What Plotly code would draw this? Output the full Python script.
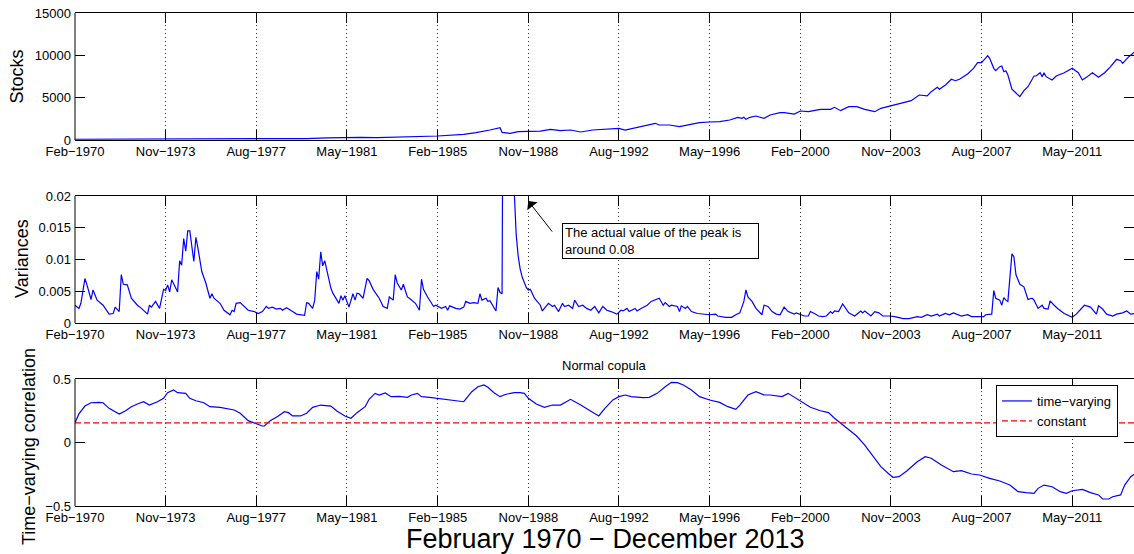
import pandas as pd
import plotly.graph_objects as go

# ---------------- data (months counted from Feb-1970) ----------------
START = "1970-02-01"

stock_m = [0, 12, 24, 36, 48, 56, 66, 84, 100, 115, 125, 135, 142, 150, 160, 172, 180, 193, 199, 206,
           209, 211, 212, 213, 216, 220, 225, 231, 236, 241, 246, 251, 257, 264, 270, 273, 277, 282, 288, 290,
           295, 300, 305, 310, 315, 320, 325, 329, 331, 332, 333, 335, 338, 342, 345, 350, 352, 357, 360, 364,
           370, 375, 377, 380, 384, 388, 392, 397, 400, 405, 409, 415, 419, 423, 425, 428, 429, 432, 435, 437,
           439, 443, 446, 448, 450, 451, 453, 454, 456, 457, 459, 460, 461, 462, 463, 465, 467, 469, 471, 473,
           476, 477, 479, 480, 481, 482, 485, 487, 491, 495, 498, 500, 502, 505, 508, 511, 514, 517, 519, 520,
           523, 526]
stock_v = [90, 100, 110, 130, 100, 75, 100, 110, 120, 170, 250, 330, 300, 280, 330, 380, 470, 670, 865, 1180,
           1330, 1450, 900, 850, 790, 985, 985, 1060, 1260, 1100, 1180, 945, 1180, 1300, 1380, 1180, 1380, 1650, 1970, 1770,
           1770, 1570, 1850, 2050, 2125, 2165, 2360, 2680, 2560, 2680, 2440, 2680, 2835, 2560, 2950, 3230, 3230, 3070, 3425, 3345,
           3620, 3620, 3860, 3465, 3935, 3935, 3620, 3345, 3740, 4015, 4250, 4645, 5315, 5200, 5710, 6220, 5990, 6500, 7170, 7000,
           7170, 7795, 8465, 9130, 9130, 9450, 9955, 9650, 8465, 8185, 8660, 8740, 8070, 8185, 7675, 5990, 5590, 5115, 5825, 6295,
           7560, 7560, 7950, 7480, 7950, 7480, 7085, 7560, 7950, 8465, 7950, 7085, 7400, 7950, 7400, 7950, 8660, 9530, 9365, 9060,
           9840, 10400]

var_m = [0, 2, 3, 5, 6, 8, 9, 11, 14, 17, 19, 20, 22, 23, 24, 26, 28, 31, 33, 36, 37, 38, 40, 42, 44, 45, 46, 47, 48,
         51, 52, 53, 54, 55, 56, 57, 59, 60, 61, 63, 65, 67, 68, 69, 72, 74, 77, 78, 79, 80, 82, 84, 86, 89, 91, 93,
         95, 96, 98, 100, 102, 103, 105, 108, 110, 114, 115, 116, 118, 119, 120, 121, 122, 123, 124, 127, 128, 131,
         132, 133, 134, 136, 138, 139, 140, 141, 143, 145, 146, 148, 151, 153, 155, 156, 158, 159, 160, 162, 163,
         165, 166, 169, 171, 172, 173, 174, 175, 178, 179, 182, 184, 185, 186, 189, 191, 193, 194, 196, 198, 200,
         201, 202, 204, 205, 206, 209, 210, 211, 212, 213, 214, 215, 216, 217, 218, 219, 220, 221, 222, 223, 224,
         225, 226, 228, 231, 232, 235, 237, 238, 240, 242, 243, 245, 247, 248, 250, 252, 254, 256, 258, 260, 262,
         264, 266, 269, 271, 272, 274, 275, 278, 279, 281, 284, 286, 289, 290, 292, 293, 295, 296, 299, 300, 301,
         303, 304, 306, 309, 312, 315, 318, 319, 323, 326, 328, 330, 332, 333, 334, 336, 338, 341, 342, 344, 346,
         348, 350, 352, 354, 357, 358, 360, 362, 364, 365, 367, 369, 371, 373, 375, 376, 377, 379, 381, 382, 384,
         387, 389, 390, 391, 392, 395, 397, 399, 401, 404, 407, 411, 414, 418, 420, 423, 425, 428, 429, 432, 434,
         436, 438, 440, 443, 445, 448, 451, 452, 455, 456, 457, 459, 460, 461, 462, 463, 465, 466, 467, 469, 471,
         473, 475, 476, 478, 480, 481, 483, 484, 486, 488, 491, 495, 497, 499, 501, 504, 507, 508, 510, 512, 515,
         517, 520, 522, 524, 526]
var_v = [0.0028, 0.0023, 0.0031, 0.0070, 0.0060, 0.0037, 0.0052, 0.0036, 0.0028, 0.0014, 0.0015, 0.0025, 0.0018,
         0.0076, 0.0061, 0.0060, 0.0039, 0.0028, 0.0023, 0.0014, 0.0028, 0.0025, 0.0034, 0.0023, 0.0053, 0.0051,
         0.0060, 0.0049, 0.0068, 0.0049, 0.0098, 0.0091, 0.0133, 0.0113, 0.0145, 0.0145, 0.0097, 0.0135, 0.0120,
         0.0081, 0.0063, 0.0039, 0.0046, 0.0039, 0.0031, 0.0020, 0.0013, 0.0020, 0.0018, 0.0031, 0.0032, 0.0026,
         0.0020, 0.0018, 0.0015, 0.0018, 0.0026, 0.0023, 0.0025, 0.0022, 0.0023, 0.0020, 0.0024, 0.0018, 0.0014,
         0.0012, 0.0032, 0.0031, 0.0023, 0.0036, 0.0081, 0.0069, 0.0112, 0.0090, 0.0098, 0.0055, 0.0047, 0.0031,
         0.0043, 0.0036, 0.0043, 0.0025, 0.0046, 0.0036, 0.0047, 0.0046, 0.0039, 0.0070, 0.0067, 0.0053, 0.0039,
         0.0026, 0.0023, 0.0041, 0.0036, 0.0076, 0.0063, 0.0052, 0.0061, 0.0041, 0.0039, 0.0031, 0.0020, 0.0069,
         0.0053, 0.0047, 0.0041, 0.0026, 0.0028, 0.0023, 0.0026, 0.0020, 0.0027, 0.0023, 0.0022, 0.0025, 0.0034,
         0.0031, 0.0032, 0.0031, 0.0046, 0.0036, 0.0039, 0.0034, 0.0035, 0.0019, 0.0056, 0.0048, 0.0046, 0.0800,
         0.0620, 0.0470, 0.0360, 0.0280, 0.0210, 0.0140, 0.0105, 0.0085, 0.0072, 0.0063, 0.0056, 0.0052, 0.0053,
         0.0039, 0.0028, 0.0019, 0.0031, 0.0026, 0.0028, 0.0018, 0.0031, 0.0026, 0.0028, 0.0023, 0.0036, 0.0026,
         0.0028, 0.0023, 0.0020, 0.0026, 0.0016, 0.0026, 0.0020, 0.0018, 0.0014, 0.0020, 0.0019, 0.0023, 0.0018,
         0.0023, 0.0019, 0.0023, 0.0028, 0.0034, 0.0037, 0.0039, 0.0028, 0.0032, 0.0026, 0.0028, 0.0026, 0.0018,
         0.0027, 0.0023, 0.0026, 0.0018, 0.0015, 0.0014, 0.0013, 0.0014, 0.0011, 0.0009, 0.0009, 0.0013, 0.0016,
         0.0034, 0.0052, 0.0041, 0.0034, 0.0023, 0.0013, 0.0028, 0.0026, 0.0018, 0.0014, 0.0013, 0.0025, 0.0018,
         0.0014, 0.0016, 0.0014, 0.0011, 0.0011, 0.0018, 0.0015, 0.0011, 0.0010, 0.0011, 0.0018, 0.0015, 0.0019,
         0.0018, 0.0030, 0.0025, 0.0016, 0.0011, 0.0016, 0.0019, 0.0016, 0.0019, 0.0011, 0.0018, 0.0016, 0.0011,
         0.0011, 0.0010, 0.0007, 0.0007, 0.0010, 0.0009, 0.0013, 0.0011, 0.0014, 0.0011, 0.0015, 0.0013, 0.0016,
         0.0013, 0.0011, 0.0013, 0.0010, 0.0010, 0.0010, 0.0013, 0.0014, 0.0051, 0.0039, 0.0036, 0.0028, 0.0040,
         0.0036, 0.0034, 0.0109, 0.0104, 0.0076, 0.0061, 0.0057, 0.0037, 0.0039, 0.0036, 0.0023, 0.0028, 0.0023,
         0.0022, 0.0035, 0.0028, 0.0022, 0.0015, 0.0009, 0.0014, 0.0022, 0.0028, 0.0025, 0.0014, 0.0027, 0.0022,
         0.0014, 0.0011, 0.0014, 0.0016, 0.0019, 0.0014, 0.0015]

corr_m = [0, 2, 5, 8, 12, 14, 17, 20, 22, 25, 28, 31, 34, 37, 41, 44, 46, 49, 51, 55, 57, 60, 64, 67, 72, 79, 82,
          86, 90, 93, 94, 97, 101, 104, 106, 108, 112, 115, 118, 122, 127, 130, 134, 137, 140, 144, 146, 149, 151,
          154, 157, 161, 165, 167, 170, 172, 176, 180, 184, 189, 193, 197, 200, 203, 205, 208, 211, 214, 218, 221,
          223, 225, 229, 233, 237, 241, 243, 246, 251, 256, 260, 263, 267, 270, 273, 276, 282, 285, 289, 293, 296,
          299, 302, 306, 310, 315, 320, 324, 328, 330, 334, 338, 342, 345, 351, 354, 357, 360, 365, 370, 374, 377,
          380, 384, 388, 392, 396, 400, 404, 406, 409, 413, 418, 422, 425, 430, 436, 440, 445, 449, 454, 459, 464,
          468, 472, 476, 478, 481, 485, 489, 492, 495, 500, 504, 508, 510, 513, 515, 519, 521, 524, 526]
corr_v = [0.156, 0.225, 0.287, 0.313, 0.316, 0.313, 0.269, 0.243, 0.224, 0.248, 0.282, 0.303, 0.321, 0.295, 0.321,
          0.348, 0.392, 0.413, 0.392, 0.387, 0.348, 0.329, 0.313, 0.282, 0.277, 0.256, 0.230, 0.172, 0.146, 0.130,
          0.130, 0.172, 0.209, 0.243, 0.235, 0.209, 0.209, 0.230, 0.277, 0.295, 0.287, 0.248, 0.209, 0.191, 0.235,
          0.282, 0.340, 0.387, 0.374, 0.390, 0.361, 0.363, 0.356, 0.374, 0.387, 0.361, 0.356, 0.348, 0.335, 0.327,
          0.321, 0.400, 0.439, 0.453, 0.435, 0.392, 0.361, 0.380, 0.392, 0.392, 0.387, 0.348, 0.303, 0.277, 0.295,
          0.295, 0.313, 0.340, 0.295, 0.250, 0.209, 0.269, 0.335, 0.361, 0.374, 0.361, 0.353, 0.356, 0.387, 0.439,
          0.474, 0.471, 0.453, 0.413, 0.361, 0.335, 0.316, 0.282, 0.261, 0.295, 0.374, 0.400, 0.375, 0.374, 0.361,
          0.387, 0.356, 0.321, 0.277, 0.250, 0.235, 0.191, 0.151, 0.098, 0.051, -0.020, -0.106, -0.190, -0.248,
          -0.274, -0.269, -0.222, -0.151, -0.112, -0.124, -0.177, -0.230, -0.222, -0.248, -0.256, -0.282, -0.303,
          -0.335, -0.387, -0.395, -0.400, -0.361, -0.335, -0.348, -0.387, -0.400, -0.380, -0.369, -0.395, -0.413,
          -0.445, -0.445, -0.427, -0.413, -0.335, -0.269, -0.248]
corr_const = 0.155

tick_dates = ["1970-02-01", "1973-11-01", "1977-08-01", "1981-05-01", "1985-02-01", "1988-11-01",
              "1992-08-01", "1996-05-01", "2000-02-01", "2003-11-01", "2007-08-01", "2011-05-01"]
tick_labels = ["Feb\u22121970", "Nov\u22121973", "Aug\u22121977", "May\u22121981", "Feb\u22121985", "Nov\u22121988",
               "Aug\u22121992", "May\u22121996", "Feb\u22122000", "Nov\u22122003", "Aug\u22122007", "May\u22122011"]

stock_ticks = [0, 5000, 10000, 15000]
var_ticks = [0, 0.005, 0.01, 0.015, 0.02]
var_tick_text = ["0", "0.005", "0.01", "0.015", "0.02"]
corr_ticks = [-0.5, 0, 0.5]
corr_tick_text = ["\u22120.5", "0", "0.5"]

peak_note = "The actual value of the peak is<br>around 0.08"
peak_date = "1988-11-01"
peak_mark = 0.0192

# ---------------- helpers ----------------
start = pd.Timestamp(START)


def to_dates(months):
    return [start + pd.DateOffset(months=int(m)) for m in months]


W, H, L = 1134, 554, 75


def pxx(p):
    return (p - L) / (W - L)


def pxy(p):
    return 1 - p / H


FONT = "Liberation Sans, Arial, Helvetica, sans-serif"
BLUE = "#0000ff"

fig = go.Figure()
fig.add_trace(go.Scatter(x=to_dates(stock_m), y=stock_v, mode="lines", line=dict(color=BLUE, width=1.2),
                         xaxis="x", yaxis="y", showlegend=False))
fig.add_trace(go.Scatter(x=to_dates(var_m), y=var_v, mode="lines", line=dict(color=BLUE, width=1.2),
                         xaxis="x2", yaxis="y2", showlegend=False))
fig.add_trace(go.Scatter(x=to_dates(corr_m), y=corr_v, mode="lines", line=dict(color=BLUE, width=1.2),
                         xaxis="x3", yaxis="y3", name="time\u2212varying"))
cd = to_dates([corr_m[0], corr_m[-1]])
fig.add_trace(go.Scatter(x=cd, y=[corr_const, corr_const], mode="lines",
                         line=dict(color="#ff0000", width=1.2, dash="6px,3px"),
                         xaxis="x3", yaxis="y3", name="constant"))

xcommon = dict(type="date", range=["1970-02-01", "2013-11-19"], tickmode="array", tickvals=tick_dates,
               ticktext=tick_labels, ticks="inside", ticklen=10, tickwidth=1, tickcolor="black",
               showline=True, linecolor="black", linewidth=1, mirror="ticks",
               showgrid=True, gridcolor="#333333", griddash="1px,3px", gridwidth=1,
               ticklabelstandoff=-1, automargin=False,
               zeroline=False, tickfont=dict(size=13, color="black", family=FONT), domain=[0, 1])
ycommon = dict(ticks="inside", ticklen=10, tickwidth=1, tickcolor="black", showline=False, mirror="ticks",
               showgrid=False, zeroline=False, ticklabelstandoff=3, automargin=False,
               tickfont=dict(size=13, color="black", family=FONT))

doms = [(13, 140), (196, 323), (379, 506)]
fig.update_layout(
    width=W, height=H, margin=dict(l=L, r=0, t=0, b=0, autoexpand=False),
    paper_bgcolor="white", plot_bgcolor="white",
    font=dict(family=FONT, color="black", size=13),
    xaxis=dict(xcommon, anchor="y"),
    xaxis2=dict(xcommon, anchor="y2"),
    xaxis3=dict(xcommon, anchor="y3"),
    yaxis=dict(ycommon, anchor="x", range=[0, 15000], tickvals=stock_ticks,
               ticktext=[str(t) for t in stock_ticks], domain=[pxy(doms[0][1]), pxy(doms[0][0])]),
    yaxis2=dict(ycommon, anchor="x2", range=[0, 0.02], tickvals=var_ticks, ticktext=var_tick_text,
                domain=[pxy(doms[1][1]), pxy(doms[1][0])]),
    yaxis3=dict(ycommon, anchor="x3", range=[-0.5, 0.5], tickvals=corr_ticks, ticktext=corr_tick_text,
                domain=[pxy(doms[2][1]), pxy(doms[2][0])]),
    legend=dict(x=pxx(996), y=pxy(385), xanchor="left", yanchor="top", bordercolor="black", borderwidth=1,
                bgcolor="white", font=dict(size=13, family=FONT, color="black"), tracegroupgap=0),
)

shapes = []
for ax in ["", "2", "3"]:
    shapes.append(dict(type="line", xref=f"x{ax} domain", yref=f"y{ax} domain", x0=0, x1=0, y0=0, y1=1,
                       line=dict(color="black", width=1)))
fig.update_layout(shapes=shapes)

ann = []
ann.append(dict(text="Stocks", xref="paper", yref="paper", x=pxx(17), y=pxy(76.5), textangle=-90,
                showarrow=False, xanchor="center", yanchor="middle", font=dict(size=18)))
ann.append(dict(text="Variances", xref="paper", yref="paper", x=pxx(22), y=pxy(259), textangle=-90,
                showarrow=False, xanchor="center", yanchor="middle", font=dict(size=18)))
ann.append(dict(text="Time\u2212varying correlation", xref="paper", yref="paper", x=pxx(29), y=pxy(447),
                textangle=-90, showarrow=False, xanchor="center", yanchor="middle", font=dict(size=18)))
ann.append(dict(text="Normal copula", xref="paper", yref="paper", x=0.5, y=pxy(365), showarrow=False,
                xanchor="center", yanchor="middle", font=dict(size=13)))
ann.append(dict(text="February 1970 \u2212 December 2013", xref="paper", yref="paper", x=pxx(605), y=pxy(539),
                showarrow=False, xanchor="center", yanchor="middle", font=dict(size=27)))
ann.append(dict(text=peak_note, xref="paper", yref="paper", x=pxx(562), y=pxy(223), showarrow=False,
                xanchor="left", yanchor="top", align="left", valign="middle", width=191, height=30,
                bordercolor="black", borderwidth=1, borderpad=2,
                bgcolor="white", font=dict(size=13)))
ann.append(dict(text="", xref="x2", yref="y2", x=peak_date, y=peak_mark, ax=25, ay=32, showarrow=True,
                arrowhead=1, arrowsize=2.2, arrowwidth=1, arrowcolor="black", standoff=0))
fig.update_layout(annotations=ann)

fig.write_html("out.html", config={"displayModeBar": False},
               post_script="document.body.style.margin='0px';document.body.style.overflow='hidden';")
